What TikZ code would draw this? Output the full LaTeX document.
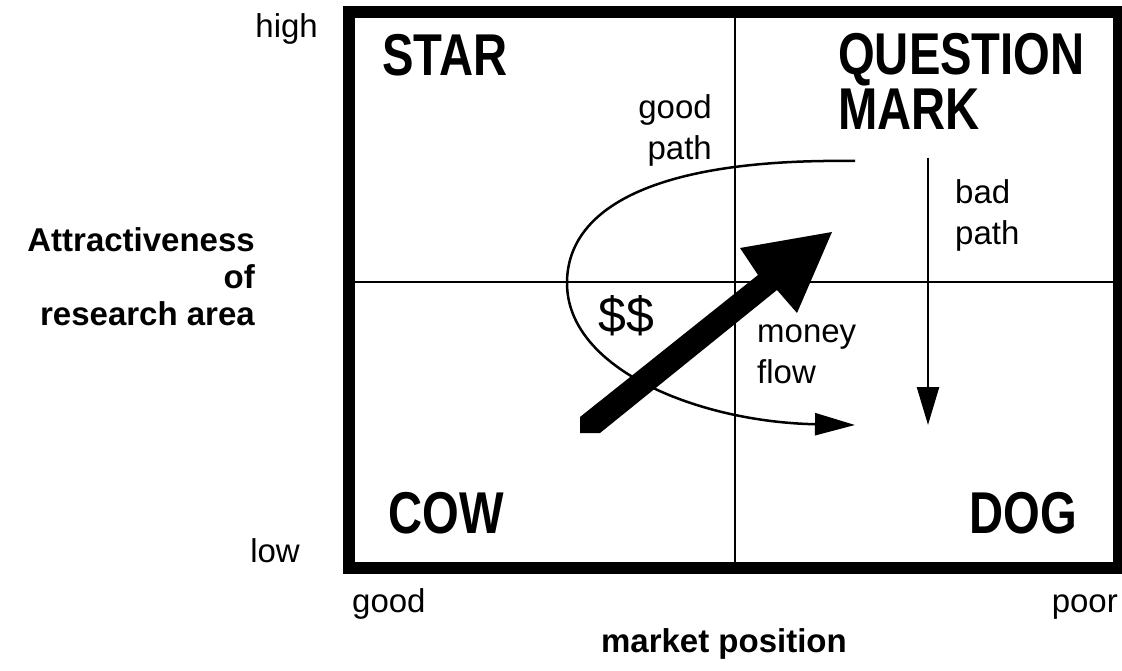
\documentclass[tikz,border=0pt]{standalone}
\usepackage{fontspec}
\setmainfont{Liberation Sans}
\newfontfamily\quadfont[FakeStretch=0.8]{Liberation Sans}
\usetikzlibrary{arrows.meta}
\begin{document}
\begin{tikzpicture}[x=1pt,y=-1pt,
  lbl/.style={inner sep=0pt, font=\fontsize{33}{41}\selectfont},
  blbl/.style={inner sep=0pt, font=\fontsize{33}{37}\selectfont\bfseries},
  quad/.style={inner sep=0pt, font=\quadfont\fontsize{59}{55}\selectfont\bfseries},
  divider/.style={line width=2.5pt},
  borderline/.style={line width=12pt},
  pathline/.style={line width=2.5pt, -{Triangle[length=40pt,width=22pt]}}
]
\useasboundingbox (0,0) rectangle (1122,671);
\fill[white] (0,0) rectangle (1122,671);
% frame and dividers
\draw[borderline] (349,12) rectangle (1119,568);
\coordinate (vtop) at (735,12);
\coordinate (vbot) at (735,568);
\coordinate (hl) at (349,282);
\coordinate (hr) at (1119,282);
\draw[divider] (vtop) -- (vbot);
\draw[divider] (hl) -- (hr);
% quadrant labels (anchor base = baseline of last line)
\node[quad, anchor=base west] (star) at (382,76) {STAR};
\node[quad, anchor=base west, align=left] (qm) at (838,130) {QUESTION\\MARK};
\node[quad, anchor=base west] (cow) at (388,533) {COW};
\node[quad, anchor=base east] (dog) at (1077,533) {DOG};
% axis labels
\node[lbl, anchor=base east] (high) at (318,38) {high};
\node[lbl, anchor=base east] (low) at (300,562) {low};
\node[lbl, anchor=base west] (good) at (352,612) {good};
\node[lbl, anchor=base east] (poor) at (1118,612) {poor};
\node[blbl, anchor=base east] (mp) at (847,652) {market position};
\node[blbl, anchor=base east, align=right] (attr) at (255,325)
  {Attractiveness\\of\hspace{32pt}\\research area\hspace{5pt}};
% inner labels
\node[lbl, anchor=base east, align=right] (gp) at (712,160) {good\\path};
\node[lbl, anchor=base west, align=left] (bp) at (955,245) {bad\\path};
\node[lbl, anchor=base west, align=left] (mf) at (757,383) {money\\flow};
\node[inner sep=0pt, anchor=base west, font=\fontsize{50}{50}\selectfont] (dol) at (598,332) {\$\$};
% good path curve
\coordinate (gs) at (855,161);
\coordinate (gl) at (567,283);
\coordinate (ge) at (855,425);
\draw[pathline] (gs) .. controls (640,158) and (567,215) .. (gl)
  .. controls (567,370) and (700,422) .. (ge);
% bad path
\coordinate (bs) at (928,158);
\coordinate (be) at (928,425);
\draw[pathline, -{Triangle[length=38pt,width=22pt]}] (bs) -- (be);
% money flow thick arrow
\coordinate (t1) at (580,417);
\coordinate (t2) at (580,433);
\coordinate (t3) at (600,433);
\coordinate (n1) at (758,275);
\coordinate (n2) at (777,290);
\coordinate (h1) at (740,248);
\coordinate (h2) at (797,313);
\coordinate (tip) at (832,232);
\fill (t1) -- (n1) -- (h1) -- (tip) -- (h2) -- (n2) -- (t3) -- (t2) -- cycle;
\end{tikzpicture}
\end{document}
